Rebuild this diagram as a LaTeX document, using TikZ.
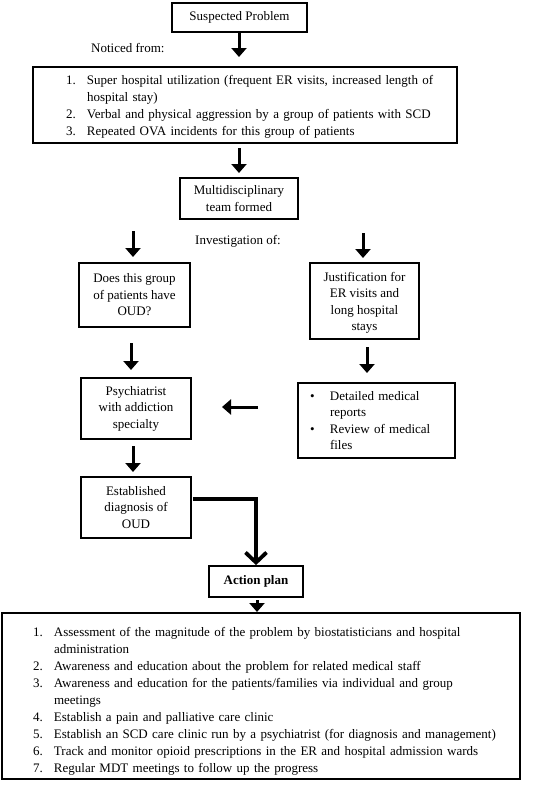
\documentclass[tikz,border=0pt]{standalone}
\usepackage{fontspec}
\setmainfont{Liberation Serif}
\usetikzlibrary{arrows.meta}
\newcommand\Lnum[2]{\mbox{\makebox[21pt][l]{#1}#2}}
\newcommand\Lcont[1]{\mbox{\hspace*{21pt}#1}}
\newcommand\Lbul[1]{\mbox{\makebox[20pt][l]{\textbullet}#1}}
\newcommand\Lbcont[1]{\mbox{\hspace*{20pt}#1}}
\begin{document}
\begin{tikzpicture}[x=1pt,y=1pt,
  every node/.style={font=\fontsize{13}{16.5}\selectfont},
  box/.style={draw, line width=1.8pt, align=center, inner sep=0pt},
  listbox/.style={draw, line width=1.8pt, align=left, inner ysep=0pt},
  arr/.style={line width=3pt, -{Triangle[width=15pt,length=9pt]}},
  bigarr/.style={line width=3.8pt, line join=miter, -{Straight Barb[width=21pt,length=10pt]}}
]
\useasboundingbox (0,0) rectangle (533,-787);
\fill[white] (0,0) rectangle (533,-787);

% nodes
\node[box, minimum width=135pt, minimum height=29pt] (sp) at (239.5,-17.5) {Suspected Problem};
\node[anchor=west, inner sep=0pt] (noticed) at (91,-48) {Noticed from:};
\node[listbox, text width=358pt, inner xsep=33pt, minimum height=76pt,
      font=\fontsize{13}{16.8}\selectfont] (obs) at (245,-105) {%
  \rule{0pt}{13pt}\Lnum{1.}{Super hospital utilization (frequent ER visits, increased length of}\\
  \Lcont{hospital stay)}\\
  \Lnum{2.}{Verbal and physical aggression by a group of patients with SCD}\\
  \Lnum{3.}{Repeated OVA incidents for this group of patients}};
\node[box, minimum width=118pt, minimum height=41pt] (mdt) at (239,-198.5) {Multidisciplinary\\team formed};
\node[inner sep=0pt] (inv) at (238,-241) {Investigation of:};
\node[box, minimum width=111pt, minimum height=64pt] (oud) at (134.5,-295) {Does this group\\of patients have\\OUD?};
\node[box, minimum width=109pt, minimum height=76pt] (just) at (364.5,-301) {\rule{0pt}{13pt}Justification for\\ER visits and\\long hospital\\stays};
\node[box, minimum width=110pt, minimum height=61pt] (psy) at (136,-408.5) {Psychiatrist\\with addiction\\specialty};
\node[listbox, text width=133pt, inner xsep=12pt, minimum height=75pt] (rep) at (376.5,-420.5) {%
  \Lbul{Detailed medical}\\
  \Lbcont{reports}\\
  \Lbul{Review of medical}\\
  \Lbcont{files}};
\node[box, minimum width=110pt, minimum height=61pt] (est) at (136,-507.5) {Established\\diagnosis of\\OUD};
\node[box, minimum width=94pt, minimum height=31pt, font=\fontsize{13}{16}\selectfont\bfseries] (act) at (256,-581.5) {Action plan};
\node[listbox, text width=456pt, inner xsep=31pt, minimum height=166pt,
      font=\fontsize{13}{17}\selectfont] (plan) at (261,-696) {%
  \rule{0pt}{20pt}\Lnum{1.}{Assessment of the magnitude of the problem by biostatisticians and hospital}\\
  \Lcont{administration}\\
  \Lnum{2.}{Awareness and education about the problem for related medical staff}\\
  \Lnum{3.}{Awareness and education for the patients/families via individual and group}\\
  \Lcont{meetings}\\
  \Lnum{4.}{Establish a pain and palliative care clinic}\\
  \Lnum{5.}{Establish an SCD care clinic run by a psychiatrist (for diagnosis and management)}\\
  \Lnum{6.}{Track and monitor opioid prescriptions in the ER and hospital admission wards}\\
  \Lnum{7.}{Regular MDT meetings to follow up the progress}};

% arrow end points
\coordinate (a1e) at (239,-57);
\coordinate (a2s) at (239,-148);
\coordinate (a2e) at (239,-173);
\coordinate (a3s) at (133,-231);
\coordinate (a3e) at (133,-257);
\coordinate (a4s) at (363,-233);
\coordinate (a4e) at (363,-258);
\coordinate (a5s) at (131,-343);
\coordinate (a5e) at (131,-370);
\coordinate (a6s) at (367,-347);
\coordinate (a6e) at (367,-373);
\coordinate (a7s) at (258,-407);
\coordinate (a7e) at (222,-407);
\coordinate (a8s) at (133,-446);
\coordinate (a8e) at (133,-472);
\coordinate (a9s) at (193,-499);
\coordinate (a10s) at (257,-600);
\coordinate (a10e) at (257,-612);

% connectors
\draw[arr] (sp.south -| a1e) -- (a1e);
\draw[arr] (a2s) -- (a2e);
\draw[arr] (a3s) -- (a3e);
\draw[arr] (a4s) -- (a4e);
\draw[arr] (a5s) -- (a5e);
\draw[arr] (a6s) -- (a6e);
\draw[arr] (a7s) -- (a7e);
\draw[arr] (a8s) -- (a8e);
\draw[bigarr] (a9s) -| (act.north);
\draw[arr] (a10s) -- (a10e);
\end{tikzpicture}
\end{document}
